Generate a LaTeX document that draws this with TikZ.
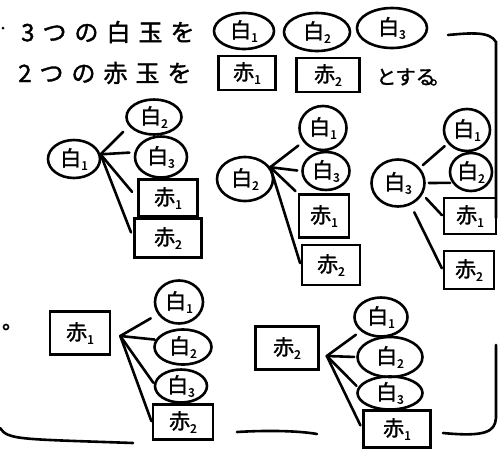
\documentclass[tikz,border=0pt]{standalone}
\usepackage{fontspec}
\newfontfamily\jp[BoldFont={Noto Sans CJK JP}, BoldFeatures={FakeBold=1.5}]{Noto Sans CJK JP}
\usetikzlibrary{shapes.geometric}
\newcommand\lb[2]{#1\raisebox{-4pt}{\fontsize{12}{12}\selectfont #2}}
\newcommand\gp{\hspace{8pt}}
\tikzset{
  wb/.style={ellipse, draw, line width=2.6pt, inner sep=0pt, font=\jp\bfseries\fontsize{21}{21}\selectfont},
  rb/.style={rectangle, draw, line width=2.6pt, inner sep=0pt, font=\jp\bfseries\fontsize{21}{21}\selectfont},
  txt/.style={inner sep=0pt, font=\jp\bfseries\fontsize{24}{24}\selectfont},
  ln/.style={line width=2.6pt, line cap=round},
}
\begin{document}
\begin{tikzpicture}[x=1pt,y=-1pt]
\useasboundingbox (0,0) rectangle (499,451);
% header
\fill (3,28) circle (1.5);
\node[txt, anchor=west] (t1) at (21,32) {3\gp つ\gp の\gp 白\gp 玉\gp を};
\node[txt, anchor=west] (t2) at (18,73) {2\gp つ\gp の\gp 赤\gp 玉\gp を};
\node[wb, minimum width=60, minimum height=36] (hw1) at (244,31) {\lb{白}{1}};
\node[wb, minimum width=66, minimum height=38] (hw2) at (317,32) {\lb{白}{2}};
\node[wb, minimum width=70, minimum height=40] (hw3) at (392,28) {\lb{白}{3}};
\node[rb, minimum width=57, minimum height=34] (hr1) at (247,73) {\lb{赤}{1}};
\node[rb, minimum width=63, minimum height=34] (hr2) at (328,75) {\lb{赤}{2}};
\node[txt, font=\jp\bfseries\fontsize{20}{20}\selectfont] (t3) at (413,77) {とする\hspace{-6pt}。};
% tree 1
\node[wb, minimum width=52, minimum height=38] (a0) at (74,159) {\lb{白}{1}};
\node[wb, minimum width=55, minimum height=35] (a1) at (154,117) {\lb{白}{2}};
\node[wb, minimum width=52, minimum height=41] (a2) at (161,157) {\lb{白}{3}};
\node[rb, minimum width=59, minimum height=37] (a3) at (168,198) {\lb{赤}{1}};
\node[rb, minimum width=67, minimum height=39] (a4) at (168,238) {\lb{赤}{2}};
\draw[ln, shorten >=8pt] (a0.10) -- (a1.200);
\draw[ln, shorten >=5pt] (a0.10) -- (a2.170);
\draw[ln, shorten >=8pt] (a0.10) -- (a3.west);
\draw[ln, shorten >=6pt] (a0.10) -- (a4.west);
% tree 2
\node[wb, minimum width=56, minimum height=44] (b0) at (245,179) {\lb{白}{2}};
\node[wb, minimum width=47, minimum height=44] (b1) at (323,128) {\lb{白}{1}};
\node[wb, minimum width=47, minimum height=38] (b2) at (326,171) {\lb{白}{3}};
\node[rb, minimum width=50, minimum height=43] (b3) at (324,216) {\lb{赤}{1}};
\node[rb, minimum width=58, minimum height=40] (b4) at (331,265) {\lb{赤}{2}};
\draw[ln, shorten >=6pt] (b0.25) -- (b1.215);
\draw[ln, shorten >=4pt] (b0.25) -- (b2.west);
\draw[ln, shorten >=3pt] (b0.25) -- (b3.north west);
\draw[ln, shorten >=2pt] (b0.25) -- (b4.west);
% tree 3
\node[wb, minimum width=53, minimum height=47] (c0) at (398,183) {\lb{白}{3}};
\node[wb, minimum width=46, minimum height=42] (c1) at (467,130) {\lb{白}{1}};
\node[wb, minimum width=42, minimum height=38] (c2) at (471,172) {\lb{白}{2}};
\node[rb, minimum width=52, minimum height=36] (c3) at (470,216) {\lb{赤}{1}};
\node[rb, minimum width=50, minimum height=38] (c4) at (469,270) {\lb{赤}{2}};
\draw[ln, shorten <=4pt, shorten >=4pt] (c0.35) -- (c1.215);
\draw[ln, shorten <=3pt, shorten >=2pt] (c0.east) -- (c2.210);
\draw[ln, shorten <=5pt, shorten >=1pt] (c0.-25) -- (c3.west);
\draw[ln, shorten <=8pt, shorten >=2pt] (c0.-60) -- (c4.west);
% tree 4
\draw[line width=1.6pt] (6,327) circle (2.5);
\node[rb, minimum width=60, minimum height=43] (d0) at (80,333) {\lb{赤}{1}};
\node[wb, minimum width=48, minimum height=43] (d1) at (179,302) {\lb{白}{1}};
\node[wb, minimum width=57, minimum height=35] (d2) at (183,347) {\lb{白}{2}};
\node[wb, minimum width=52, minimum height=33] (d3) at (181,386) {\lb{白}{3}};
\node[rb, minimum width=60, minimum height=35] (d4) at (183,422) {\lb{赤}{2}};
\coordinate (dv) at ([xshift=9pt,yshift=-3pt]d0.east);
\draw[ln, shorten >=8pt] (dv) -- (d1.210);
\draw[ln, shorten >=1pt] (dv) -- (d2.165);
\draw[ln, shorten >=1pt] (dv) -- (d3.175);
\draw[ln, shorten >=1pt] (dv) -- (d4.west);
% tree 5
\node[rb, minimum width=63, minimum height=43] (e0) at (287,348) {\lb{赤}{2}};
\node[wb, minimum width=53, minimum height=39] (e1) at (381,317) {\lb{白}{1}};
\node[wb, minimum width=65, minimum height=40] (e2) at (390,357) {\lb{白}{2}};
\node[wb, minimum width=65, minimum height=33] (e3) at (390,393) {\lb{白}{3}};
\node[rb, minimum width=67, minimum height=37] (e4) at (397,429) {\lb{赤}{1}};
\coordinate (ev) at ([xshift=7pt,yshift=-8pt]e0.east);
\draw[ln, shorten >=6pt] (ev) -- (e1.215);
\draw[ln, shorten >=2pt] (ev) -- (e2.west);
\draw[ln, shorten >=2pt] (ev) -- (e3.170);
\draw[ln, shorten >=4pt] (ev) -- (e4.west);
% frame strokes
\draw[ln] (448,35) .. controls (470,33) and (490,31) .. (496,42) -- (496,218);
\draw[ln] (496,345) -- (496,418) .. controls (495,432) and (485,437) .. (443,433);
\draw[ln] (0,428) .. controls (8,440) and (20,439) .. (133,443);
\draw[ln] (237,432) .. controls (270,430) and (300,431) .. (317,434);
\end{tikzpicture}
\end{document}
